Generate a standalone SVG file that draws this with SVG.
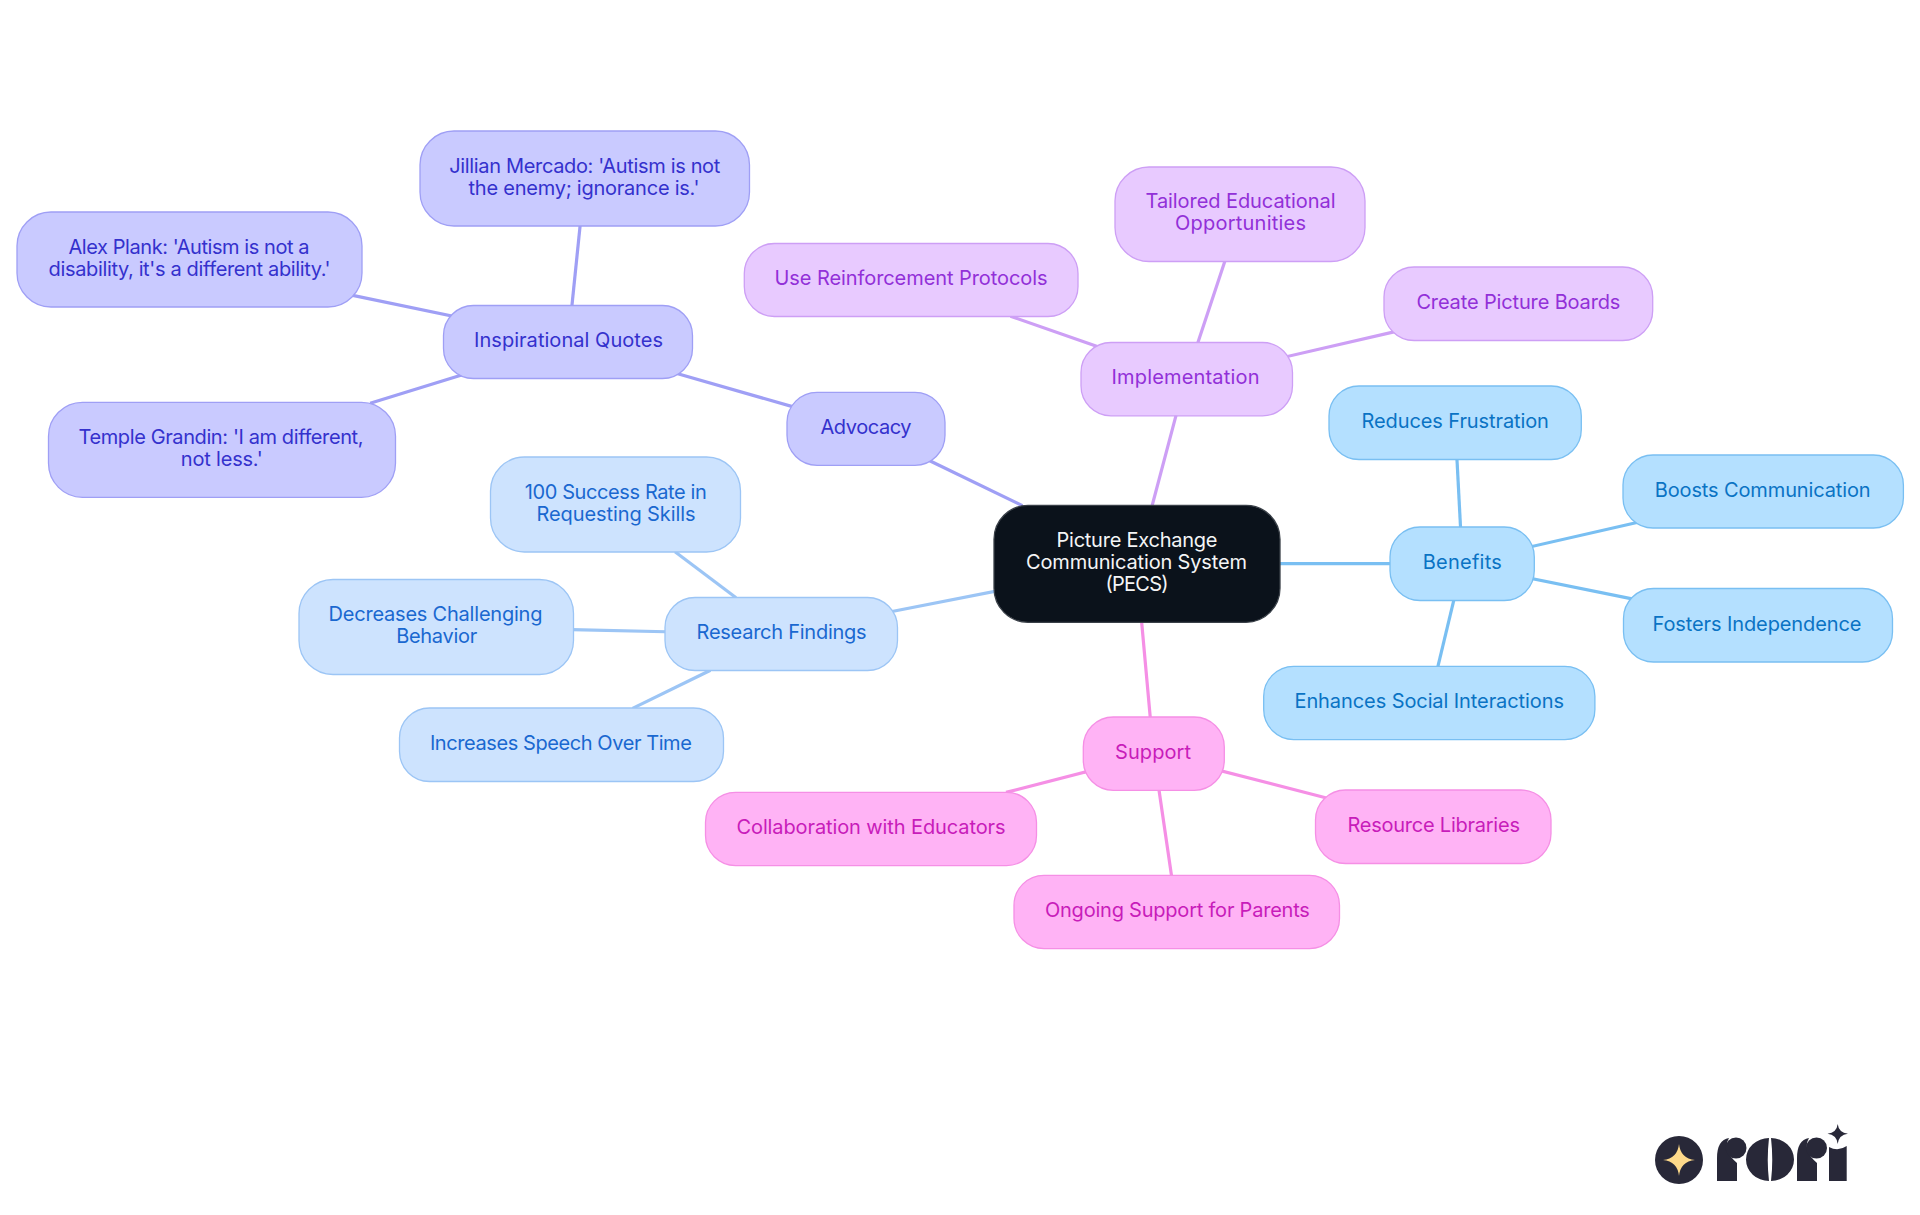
<svg xmlns="http://www.w3.org/2000/svg" width="1920" height="1215" viewBox="0 0 1920 1215">
<style>
text{font-family:"Inter","Noto Sans","Liberation Sans",sans-serif;font-size:20px;font-weight:400;text-anchor:middle}
rect{stroke-width:1.3}
.l{fill:none;stroke-width:3.2;stroke-linecap:square}
.root rect{fill:#0b121b;stroke:#3a4048}.root text{fill:#f4f5f6}
.a rect{fill:#c9caff;stroke:#9f9ff5}.a text{fill:#3431cd}
.r rect{fill:#cde3fe;stroke:#9cc5f5}.r text{fill:#1a68d0}
.i rect{fill:#e8caff;stroke:#cd9ff5}.i text{fill:#9230d8}
.b rect{fill:#b4e0ff;stroke:#79bff2}.b text{fill:#0a73c4}
.s rect{fill:#ffb3f5;stroke:#f58fe5}.s text{fill:#c81cba}
</style>
<g id="connectors">
<g class="l" stroke="#9f9ff5"><path d="M1021 505L929.600 460.700"/><path d="M792.600 406.700L677.600 373.700"/><path d="M572 305L580 226.700"/><path d="M451.700 316L354.300 295.700"/><path d="M461.700 375L371.700 402.700"/></g>
<g class="l" stroke="#9cc5f5"><path d="M993.300 591.700L891 611.700"/><path d="M734.800 596.700L676.300 552.700"/><path d="M664.900 631.700L573.500 629.700"/><path d="M709 671L634 707.700"/></g>
<g class="l" stroke="#cd9ff5"><path d="M1152.300 505L1175.700 416.700"/><path d="M1098 346.700L1012 316.700"/><path d="M1198 342.300L1224.600 262"/><path d="M1286.400 356.700L1394.600 331.700"/></g>
<g class="l" stroke="#79bff2"><path d="M1280 563.700L1389.700 563.700"/><path d="M1460.500 526.700L1457 460"/><path d="M1531 546.700L1637.600 522.300"/><path d="M1532.800 578.700L1633 599"/><path d="M1453.700 600.700L1438 666"/></g>
<g class="l" stroke="#f58fe5"><path d="M1141.700 622.700L1150.200 716.700"/><path d="M1086.400 771.700L1007.600 792"/><path d="M1159 790L1171.400 875"/><path d="M1222 771L1327.900 798.300"/></g>
</g>
<g id="root" class="root"><rect x="994" y="505.300" width="286" height="117" rx="34"/><text x="1137" y="547.300" textLength="161">Picture Exchange</text><text x="1136.500" y="569.300" textLength="221">Communication System</text><text x="1137" y="591.300" textLength="63">(PECS)</text></g>
<g id="advocacy" class="a"><rect x="787" y="392.300" width="158" height="73" rx="30"/><text x="866" y="434.300" textLength="91">Advocacy</text></g>
<g id="quotes" class="a"><rect x="443.500" y="305.500" width="249" height="73" rx="30"/><text x="568.500" y="347.300" textLength="189">Inspirational Quotes</text></g>
<g id="jillian" class="a"><rect x="420" y="131" width="329.500" height="95" rx="34"/><text x="584.800" y="172.800" textLength="271">Jillian Mercado: 'Autism is not</text><text x="584" y="195" textLength="231">the enemy; ignorance is.'</text></g>
<g id="alex" class="a"><rect x="17" y="212" width="345" height="95" rx="34"/><text x="189" y="254" textLength="241">Alex Plank: 'Autism is not a</text><text x="189.600" y="276" textLength="282">disability, it's a different ability.'</text></g>
<g id="temple" class="a"><rect x="48.500" y="402.300" width="347" height="95" rx="34"/><text x="221" y="444" textLength="285">Temple Grandin: 'I am different,</text><text x="221.800" y="466" textLength="82">not less.'</text></g>
<g id="research" class="r"><rect x="665" y="597.500" width="232.500" height="73" rx="30"/><text x="781.600" y="639.300" textLength="170">Research Findings</text></g>
<g id="success" class="r"><rect x="490.500" y="457" width="250" height="95" rx="34"/><text x="615.800" y="499" textLength="182">100 Success Rate in</text><text x="616" y="521" textLength="159">Requesting Skills</text></g>
<g id="decreases" class="r"><rect x="299" y="579.500" width="274.500" height="95" rx="34"/><text x="435.500" y="621.300" textLength="214">Decreases Challenging</text><text x="436.700" y="643.300" textLength="81">Behavior</text></g>
<g id="increases" class="r"><rect x="399.500" y="708" width="324" height="73.500" rx="30"/><text x="560.900" y="750" textLength="262">Increases Speech Over Time</text></g>
<g id="implementation" class="i"><rect x="1081" y="342.500" width="211.500" height="73.300" rx="30"/><text x="1185.500" y="384.300" textLength="148">Implementation</text></g>
<g id="reinforcement" class="i"><rect x="744.300" y="243.500" width="333.700" height="73" rx="30"/><text x="911" y="285.300" textLength="273">Use Reinforcement Protocols</text></g>
<g id="tailored" class="i"><rect x="1115" y="167" width="250" height="94.500" rx="34"/><text x="1240.500" y="207.700" textLength="190">Tailored Educational</text><text x="1240.500" y="229.700" textLength="131">Opportunities</text></g>
<g id="boards" class="i"><rect x="1384" y="267" width="268.700" height="73.500" rx="30"/><text x="1518.400" y="309" textLength="204">Create Picture Boards</text></g>
<g id="benefits" class="b"><rect x="1390" y="527" width="144.300" height="73.500" rx="30"/><text x="1462.300" y="569" textLength="79">Benefits</text></g>
<g id="reduces" class="b"><rect x="1329" y="386" width="252.300" height="73.500" rx="30"/><text x="1455.200" y="428" textLength="187.500">Reduces Frustration</text></g>
<g id="boosts" class="b"><rect x="1623" y="455" width="280.400" height="73" rx="30"/><text x="1762.700" y="497" textLength="216">Boosts Communication</text></g>
<g id="fosters" class="b"><rect x="1623.500" y="588.500" width="269" height="73.500" rx="30"/><text x="1757" y="630.500" textLength="209">Fosters Independence</text></g>
<g id="enhances" class="b"><rect x="1263.700" y="666.300" width="331.200" height="73.300" rx="30"/><text x="1429.200" y="708" textLength="269.500">Enhances Social Interactions</text></g>
<g id="support" class="s"><rect x="1083.300" y="717" width="141" height="73.300" rx="30"/><text x="1153" y="759" textLength="76">Support</text></g>
<g id="collab" class="s"><rect x="705.500" y="792.300" width="331" height="73.300" rx="30"/><text x="871" y="834" textLength="269">Collaboration with Educators</text></g>
<g id="ongoing" class="s"><rect x="1014" y="875.300" width="325.500" height="73.300" rx="30"/><text x="1177.400" y="917" textLength="265">Ongoing Support for Parents</text></g>
<g id="libraries" class="s"><rect x="1315.500" y="790" width="235.500" height="73.500" rx="30"/><text x="1433.700" y="832" textLength="172.500">Resource Libraries</text></g>
<g id="logo" fill="#282838">
<circle cx="1679" cy="1160" r="24"/>
<path fill="#fdd98a" d="M1679 1144Q1680.500 1158.500 1695 1160Q1680.500 1161.500 1679 1176Q1677.500 1161.500 1663 1160Q1677.500 1158.500 1679 1144Z"/>
<path d="M1717 1181V1158Q1717 1140 1729 1138Q1722 1150 1737 1163V1181Z"/>
<circle cx="1736" cy="1148" r="10.500"/>
<path d="M1769 1138A23 21.500 0 0 0 1769 1181Q1766.500 1160 1769 1138Z"/>
<path d="M1771 1138A23 21.500 0 0 1 1771 1181Q1773.500 1160 1771 1138Z"/>
<path d="M1797 1181V1158Q1797 1140 1809 1138Q1802 1150 1817 1163V1181Z"/>
<circle cx="1816.500" cy="1148" r="10.500"/>
<path d="M1829 1181V1147Q1838 1152 1846.700 1146V1181Z"/>
<path d="M1837.700 1124Q1838.700 1132.700 1848 1133.700Q1838.700 1134.700 1837.700 1144Q1836.700 1134.700 1827.500 1133.700Q1836.700 1132.700 1837.700 1124Z"/>
</g>
</svg>
